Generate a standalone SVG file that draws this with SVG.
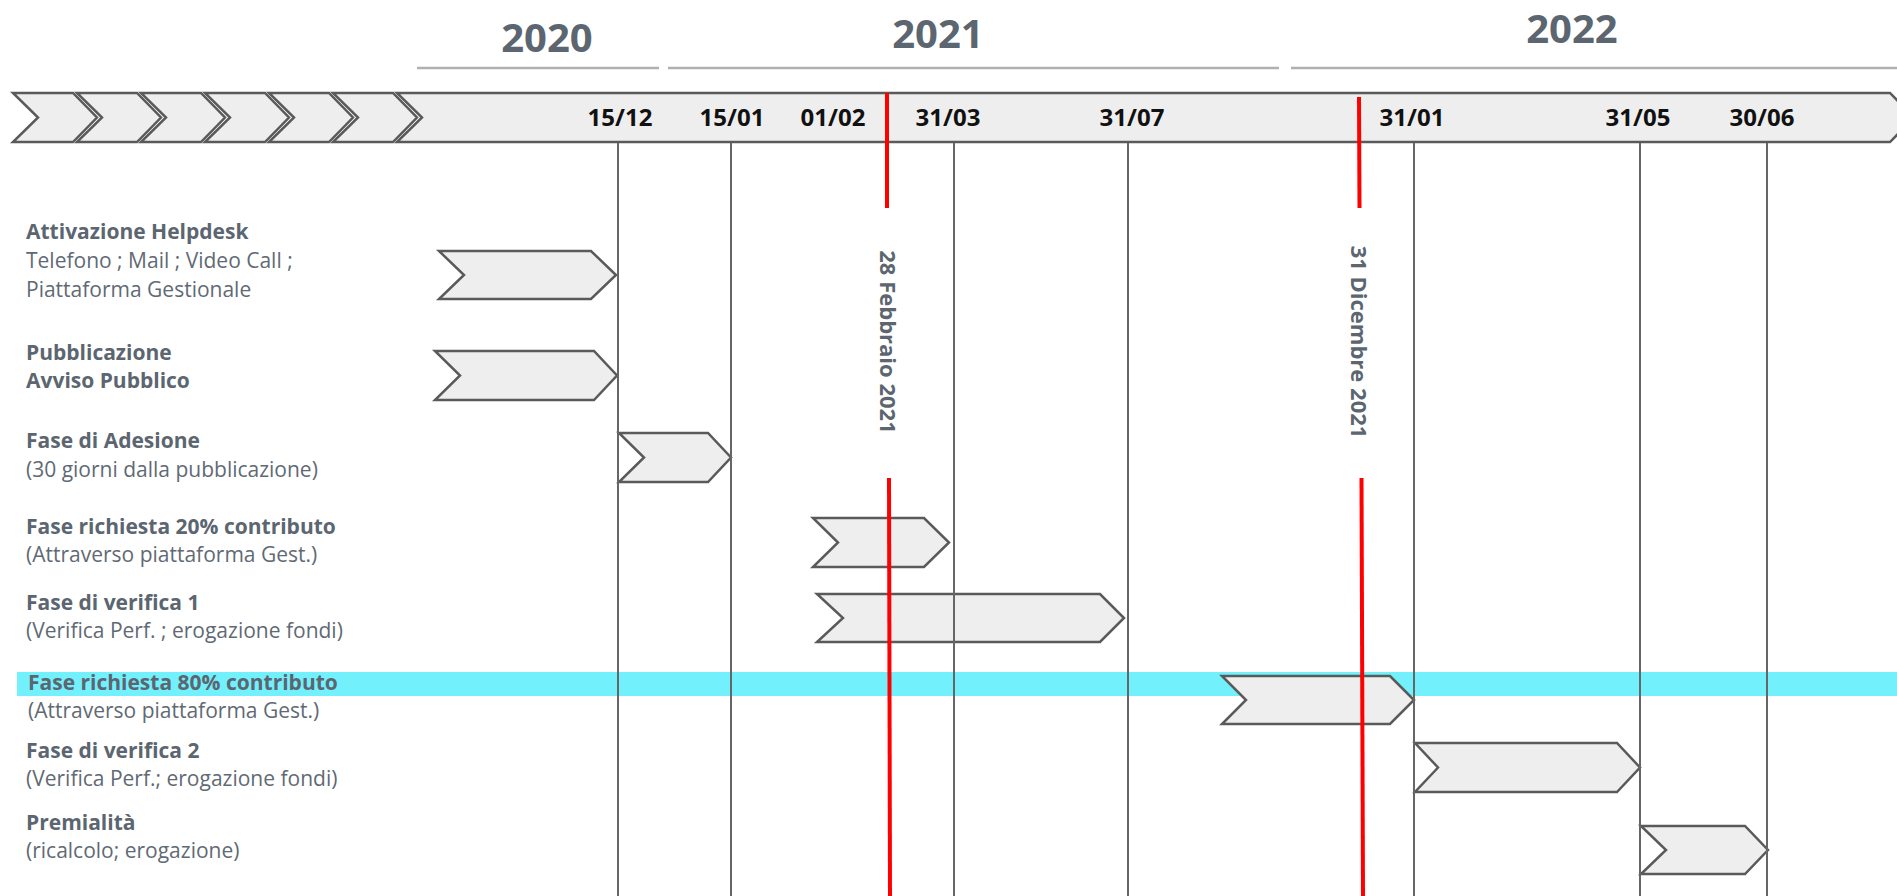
<svg xmlns="http://www.w3.org/2000/svg" width="1897" height="896" viewBox="0 0 1897 896">
<style>
.year{font-family:"Open Sans","Liberation Sans",sans-serif;font-weight:700;font-size:40px;fill:#5b6670;text-anchor:middle}
.yl{stroke:#b0b0b0;stroke-width:2.5}
.date{font-family:"Open Sans","Liberation Sans",sans-serif;font-weight:700;font-size:24px;fill:#111;text-anchor:middle}
.chev{fill:#eeeeee;stroke:#5a5a5a;stroke-width:2.5;stroke-linejoin:miter}
.grid{stroke:#666;stroke-width:2}
.red{stroke:#ff0000;stroke-width:4}
.lb{font-family:"Open Sans","Liberation Sans",sans-serif;font-weight:700;font-size:21px;fill:#5b6670}
.lr{font-family:"Open Sans","Liberation Sans",sans-serif;font-weight:400;font-size:21px;fill:#5f6a74}
.rot{font-family:"Open Sans","Liberation Sans",sans-serif;font-weight:700;font-size:22px;fill:#5b6670;text-anchor:middle}
</style>
<rect width="1897" height="896" fill="#ffffff"/>
<rect x="17" y="672" width="1880" height="24" fill="#72f0fc"/>

<g id="years">
<text class="year" x="547" y="52">2020</text>
<text class="year" x="938" y="48">2021</text>
<text class="year" x="1572" y="43">2022</text>
<line class="yl" x1="417" y1="68" x2="659" y2="68"/>
<line class="yl" x1="668" y1="68" x2="1279" y2="68"/>
<line class="yl" x1="1291" y1="68" x2="1897" y2="68"/>
</g>

<g id="timeline">
<polygon class="chev" points="13,93 73,93 97,117.5 73,142 13,142 38,117.5"/>
<polygon class="chev" points="77,93 137,93 161,117.5 137,142 77,142 102,117.5"/>
<polygon class="chev" points="141,93 201,93 225,117.5 201,142 141,142 166,117.5"/>
<polygon class="chev" points="205,93 265,93 289,117.5 265,142 205,142 230,117.5"/>
<polygon class="chev" points="269,93 329,93 353,117.5 329,142 269,142 294,117.5"/>
<polygon class="chev" points="333,93 393,93 417,117.5 393,142 333,142 358,117.5"/>
<polygon class="chev" points="397,93 1890,93 1914,117.5 1890,142 397,142 422,117.5"/>
<text class="date" x="620" y="126">15/12</text>
<text class="date" x="732" y="126">15/01</text>
<text class="date" x="833" y="126">01/02</text>
<text class="date" x="948" y="126">31/03</text>
<text class="date" x="1132" y="126">31/07</text>
<text class="date" x="1412" y="126">31/01</text>
<text class="date" x="1638" y="126">31/05</text>
<text class="date" x="1762" y="126">30/06</text>
</g>

<g id="labels">
<text class="lb" x="26" y="239">Attivazione Helpdesk</text>
<text class="lr" x="26" y="268">Telefono ; Mail ; Video Call ;</text>
<text class="lr" x="26" y="297">Piattaforma Gestionale</text>
<text class="lb" x="26" y="360">Pubblicazione</text>
<text class="lb" x="26" y="388">Avviso Pubblico</text>
<text class="lb" x="26" y="448">Fase di Adesione</text>
<text class="lr" x="26" y="477">(30 giorni dalla pubblicazione)</text>
<text class="lb" x="26" y="534">Fase richiesta 20% contributo</text>
<text class="lr" x="26" y="562">(Attraverso piattaforma Gest.)</text>
<text class="lb" x="26" y="610">Fase di verifica 1</text>
<text class="lr" x="26" y="638">(Verifica Perf. ; erogazione fondi)</text>
<text class="lb" x="28" y="690">Fase richiesta 80% contributo</text>
<text class="lr" x="28" y="718">(Attraverso piattaforma Gest.)</text>
<text class="lb" x="26" y="758">Fase di verifica 2</text>
<text class="lr" x="26" y="786">(Verifica Perf.; erogazione fondi)</text>
<text class="lb" x="26" y="830">Premialità</text>
<text class="lr" x="26" y="858">(ricalcolo; erogazione)</text>
</g>

<g id="task-helpdesk"><polygon class="chev" points="439,251 591,251 616,275 591,299 439,299 464,275"/></g>
<g id="task-pubblicazione"><polygon class="chev" points="435,351 594,351 617,375.5 594,400 435,400 460,375.5"/></g>
<g id="task-adesione"><polygon class="chev" points="619,433 708,433 731,457.5 708,482 619,482 644,457.5"/></g>
<g id="task-richiesta20"><polygon class="chev" points="813,518 924,518 949,542.5 924,567 813,567 838,542.5"/></g>
<g id="task-verifica1"><polygon class="chev" points="817,594 1100,594 1124,618 1100,642 817,642 843,618"/></g>
<g id="task-richiesta80"><polygon class="chev" points="1222,676 1390,676 1414,700 1390,724 1222,724 1246,700"/></g>
<g id="task-verifica2"><polygon class="chev" points="1415,743 1617,743 1640,767.5 1617,792 1415,792 1438,767.5"/></g>
<g id="task-premialita"><polygon class="chev" points="1641,826 1745,826 1768,850 1745,874 1641,874 1666,850"/></g>

<g id="connectors">
<line class="grid" x1="618" y1="143" x2="618" y2="896"/>
<line class="grid" x1="731" y1="143" x2="731" y2="896"/>
<line class="grid" x1="954" y1="143" x2="954" y2="896"/>
<line class="grid" x1="1128" y1="143" x2="1128" y2="896"/>
<line class="grid" x1="1414" y1="143" x2="1414" y2="896"/>
<line class="grid" x1="1640" y1="143" x2="1640" y2="896"/>
<line class="grid" x1="1767" y1="143" x2="1767" y2="896"/>
<line class="red" x1="887" y1="93" x2="887" y2="208"/>
<line class="red" x1="889" y1="478" x2="890" y2="896"/>
<line class="red" x1="1359" y1="97" x2="1359.5" y2="208"/>
<line class="red" x1="1361.5" y1="478" x2="1363" y2="896"/>
</g>

<g id="deadline-feb">
<text class="rot" transform="translate(880,342) rotate(90)">28 Febbraio 2021</text>
</g>
<g id="deadline-dec">
<text class="rot" transform="translate(1351,342) rotate(90)">31 Dicembre 2021</text>
</g>
</svg>
